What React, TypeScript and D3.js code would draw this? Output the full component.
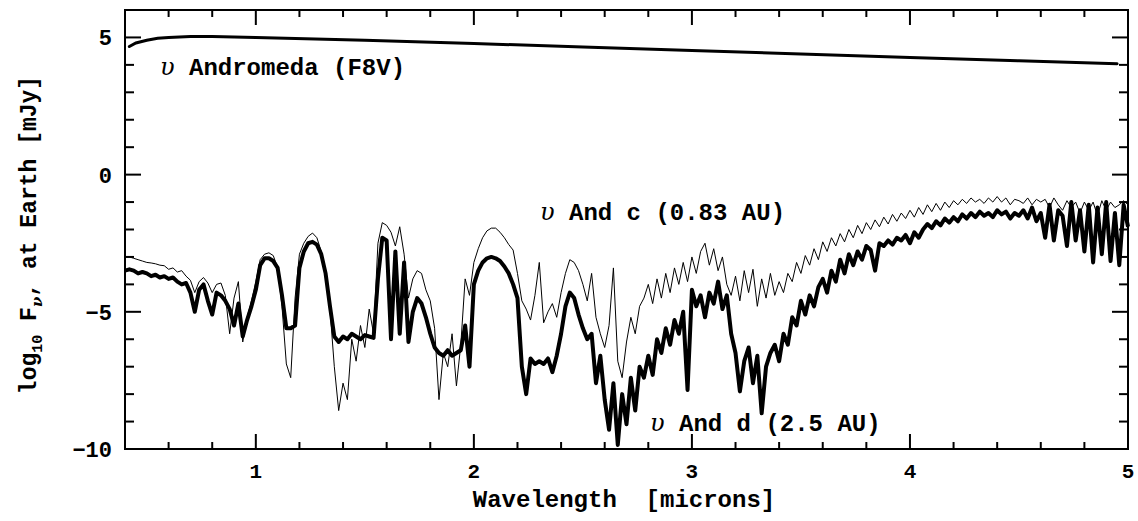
import React from "react";
import * as d3 from "d3";

// sampling grid for the two planet spectra (microns)
const WAVE_START = 0.4;
const WAVE_STEP = 0.02;

// star (thick line at top)
const starWave = [0.42, 0.45, 0.5, 0.55, 0.6, 0.7, 0.8, 1.0, 1.5, 2.0, 2.5, 3.0, 3.5, 4.0, 4.5, 4.95];
const starFlux = [4.67, 4.8, 4.9, 4.97, 5.0, 5.03, 5.03, 5.0, 4.9, 4.78, 4.65, 4.52, 4.4, 4.27, 4.15, 4.04];

// ups And c (0.83 AU), thin line
const andC = [
  -3.0, -3.0, -3.05, -3.1, -3.15, -3.2, -3.22, -3.25, -3.3, -3.32,
  -3.45, -3.4, -3.55, -3.5, -3.7, -3.85, -4.3, -3.9, -3.75, -3.95,
  -4.3, -4.0, -3.95, -4.4, -5.8, -4.5, -3.9, -6.1, -5.2, -4.6,
  -3.9, -3.1, -2.9, -2.85, -2.95, -3.4, -4.8, -6.9, -7.4, -4.5,
  -2.9, -2.5, -2.25, -2.13, -2.3, -2.8, -3.6, -4.9, -7.0, -8.6,
  -7.6, -8.2, -6.0, -6.8, -5.5, -6.3, -4.9, -5.8, -2.5, -1.75,
  -1.85, -2.1, -2.6, -1.9, -2.9, -4.5, -3.8, -3.5, -3.6, -4.2,
  -4.6, -5.6, -8.2, -6.5, -7.0, -5.8, -7.7, -6.2, -3.8, -4.4,
  -3.2, -2.7, -2.3, -2.05, -1.95, -1.95, -2.1, -2.3, -2.55, -2.75,
  -3.6, -4.6, -4.9, -5.3, -4.4, -3.2, -5.4, -5.0, -4.7, -5.2,
  -4.3, -3.6, -3.1, -3.2, -3.5, -4.0, -4.6, -3.6, -5.2, -5.8,
  -6.3, -5.5, -3.4, -6.8, -7.4, -6.1, -5.2, -5.8, -4.8, -4.5,
  -4.0, -4.7, -3.8, -4.5, -3.6, -4.3, -3.4, -4.0, -3.2, -3.9,
  -3.0, -3.6, -2.8, -2.5, -3.3, -2.7, -3.5, -3.0, -4.0, -4.4,
  -3.7, -4.6, -3.5, -4.3, -3.45, -4.8, -3.8, -4.5, -3.6, -4.4,
  -3.9, -4.3, -3.6, -3.9, -3.2, -3.6, -2.95, -3.3, -2.7, -3.1,
  -2.45, -2.8, -2.3, -2.6, -2.15, -2.45, -2.0, -2.3, -1.85, -2.15,
  -1.75, -2.0, -1.65, -1.9, -1.55, -1.8, -1.45, -1.7, -1.4, -1.6,
  -1.3, -1.55, -1.2, -1.45, -1.1, -1.35, -1.05, -1.3, -1.0, -1.2,
  -0.95, -1.1, -0.9, -1.05, -0.85, -1.0, -0.9, -1.05, -0.85, -1.0,
  -0.8, -1.0, -0.85, -1.1, -0.9, -0.95, -1.05, -0.85, -1.1, -0.9,
  -1.0, -0.9, -1.2, -0.85, -1.1, -1.3, -0.95, -1.2, -1.0, -1.4,
  -1.0, -1.3, -1.0, -1.5, -0.95, -1.3, -1.0, -1.2, -1.1, -0.95,
  -1.1,
];

// ups And d (2.5 AU), thick line
const andD = [
  -3.5, -3.45, -3.5, -3.6, -3.55, -3.6, -3.7, -3.65, -3.75, -3.7,
  -3.8, -3.75, -3.9, -4.0, -3.95, -4.3, -5.0, -4.2, -4.0, -4.6,
  -5.1, -4.3, -4.4, -4.6, -4.9, -5.5, -4.7, -5.9, -5.3, -4.8,
  -4.2, -3.3, -3.05, -3.05, -3.15, -3.4, -4.4, -5.6, -5.6, -5.5,
  -3.4, -2.8, -2.5, -2.45, -2.55, -2.9, -3.6, -4.8, -5.9, -6.1,
  -5.9, -6.0, -5.8, -5.9, -6.0, -5.85, -5.9, -5.95, -3.8, -2.3,
  -2.4, -6.0, -2.8, -5.8, -3.2, -6.1, -5.0, -4.5, -4.7, -5.2,
  -5.8, -6.3, -6.5, -6.6, -6.4, -6.6, -6.5, -6.4, -5.5, -7.0,
  -4.0, -3.5, -3.2, -3.05, -3.0, -3.05, -3.15, -3.35, -3.6, -4.0,
  -4.5, -7.0, -8.0, -6.7, -6.9, -6.8, -6.9, -6.7, -7.2, -6.6,
  -5.8, -4.8, -4.3, -4.5, -5.1, -5.6, -6.0, -5.8, -7.6, -6.6,
  -8.2, -9.3, -7.6, -9.85, -8.0, -9.1, -7.4, -8.6, -7.0, -7.4,
  -6.6, -7.3, -6.0, -6.5, -5.6, -6.2, -5.3, -5.8, -5.0, -7.85,
  -4.2, -4.8, -4.4, -5.2, -4.3, -4.7, -3.9, -4.9, -4.4, -5.8,
  -6.5, -7.9, -6.8, -6.3, -7.6, -6.6, -8.7, -7.0, -6.5, -6.2,
  -6.8, -5.8, -6.2, -5.2, -5.5, -4.6, -5.1, -4.4, -4.8, -4.1,
  -3.8, -4.3, -3.5, -3.9, -3.1, -3.6, -2.9, -3.3, -2.8, -3.1,
  -2.6, -2.75, -3.5, -2.5, -2.6, -2.4, -2.55, -2.3, -2.4, -2.2,
  -2.5, -2.1, -2.3, -2.0, -1.8, -1.95, -1.7, -1.85, -1.6, -1.75,
  -1.55, -1.7, -1.45, -1.6, -1.4, -1.55, -1.35, -1.5, -1.4, -1.55,
  -1.3, -1.45, -1.35, -1.6, -1.4, -1.5, -1.3, -1.6, -1.2, -1.7,
  -1.4, -2.3, -1.1, -2.4, -1.3, -1.5, -2.6, -1.0, -2.4, -1.3,
  -2.8, -1.1, -3.2, -1.2, -2.9, -1.0, -3.15, -1.4, -3.3, -1.1,
  -1.9,
];

const xTickLabels = [1, 2, 3, 4, 5];
const yTickLabels = [-10, -5, 0, 5];

const FONT = "'Liberation Mono', 'DejaVu Sans Mono', monospace";

export default function App() {
  const W = 1138, H = 521;
  const x = d3.scaleLinear().domain([0.4, 5]).range([125, 1128]);
  const y = d3.scaleLinear().domain([-10, 6]).range([449, 10]);
  const [x0, x1] = x.range();
  const [y0, y1] = y.range();

  const line = d3.line<[number, number]>().x(d => x(d[0])).y(d => y(d[1]));
  const spec = (vals: number[]) => vals.map((v, i) => [WAVE_START + i * WAVE_STEP, v] as [number, number]);
  const star = starWave.map((w, i) => [w, starFlux[i]] as [number, number]);

  const xMinor = d3.range(0.6, 4.99, 0.2).filter(v => Math.abs(v - Math.round(v)) > 1e-6);
  const yMinor = d3.range(-9, 6, 1).filter(v => v % 5 !== 0);

  const ups = (s: string) => (
    <tspan fontFamily="'DejaVu Serif', serif" fontStyle="italic" fontWeight="normal">{s}</tspan>
  );

  return (
    <svg width={W} height={H} style={{ position: "absolute", left: 0, top: 0, background: "#fff" }}
      fontFamily={FONT} fontWeight="bold" fill="#000">
      {/* spectra */}
      <path d={line(spec(andC)) || ""} fill="none" stroke="#000" strokeWidth={1} strokeLinejoin="round" />
      <path d={line(spec(andD)) || ""} fill="none" stroke="#000" strokeWidth={4} strokeLinejoin="round" />
      <path d={line(star) || ""} fill="none" stroke="#000" strokeWidth={3} strokeLinecap="round" />

      {/* frame */}
      <rect x={x0} y={y1} width={x1 - x0} height={y0 - y1} fill="none" stroke="#000" strokeWidth={2} />

      {/* x ticks (bottom + top) */}
      {xTickLabels.map(t => (
        <g key={"xm" + t}>
          <line x1={x(t)} x2={x(t)} y1={y0} y2={y0 - 15} stroke="#000" strokeWidth={2} />
          <line x1={x(t)} x2={x(t)} y1={y1} y2={y1 + 15} stroke="#000" strokeWidth={2} />
          <text x={x(t)} y={478} textAnchor="middle" fontSize={21}>{t}</text>
        </g>
      ))}
      {xMinor.map(t => (
        <g key={"xn" + t}>
          <line x1={x(t)} x2={x(t)} y1={y0} y2={y0 - 7} stroke="#000" strokeWidth={2} />
          <line x1={x(t)} x2={x(t)} y1={y1} y2={y1 + 7} stroke="#000" strokeWidth={2} />
        </g>
      ))}

      {/* y ticks (left + right) */}
      {yTickLabels.map(t => (
        <g key={"ym" + t}>
          <line x1={x0} x2={x0 + 16} y1={y(t)} y2={y(t)} stroke="#000" strokeWidth={2} />
          <line x1={x1} x2={x1 - 16} y1={y(t)} y2={y(t)} stroke="#000" strokeWidth={2} />
          <text x={112} y={y(t) + 8} textAnchor="end" fontSize={22}>{t < 0 ? "\u2212" + Math.abs(t) : t}</text>
        </g>
      ))}
      {yMinor.map(t => (
        <g key={"yn" + t}>
          <line x1={x0} x2={x0 + 9} y1={y(t)} y2={y(t)} stroke="#000" strokeWidth={2} />
          <line x1={x1} x2={x1 - 9} y1={y(t)} y2={y(t)} stroke="#000" strokeWidth={2} />
        </g>
      ))}

      {/* axis titles */}
      <text x={624} y={507} textAnchor="middle" fontSize={24} xmlSpace="preserve">Wavelength  [microns]</text>
      <text transform="translate(36,235) rotate(-90)" textAnchor="middle" fontSize={23}>
        log<tspan fontSize={15} dy={6}>10</tspan><tspan dy={-6}> F</tspan><tspan fontSize={15} dy={6} fontFamily="'DejaVu Serif', serif" fontStyle="italic">ν</tspan><tspan dy={-6}>, at Earth [mJy]</tspan>
      </text>

      {/* series labels */}
      <text x={160} y={75} fontSize={24}>{ups("υ")} Andromeda (F8V)</text>
      <text x={540} y={220} fontSize={24}>{ups("υ")} And c (0.83 AU)</text>
      <text x={650} y={431} fontSize={24}>{ups("υ")} And d (2.5 AU)</text>
    </svg>
  );
}
